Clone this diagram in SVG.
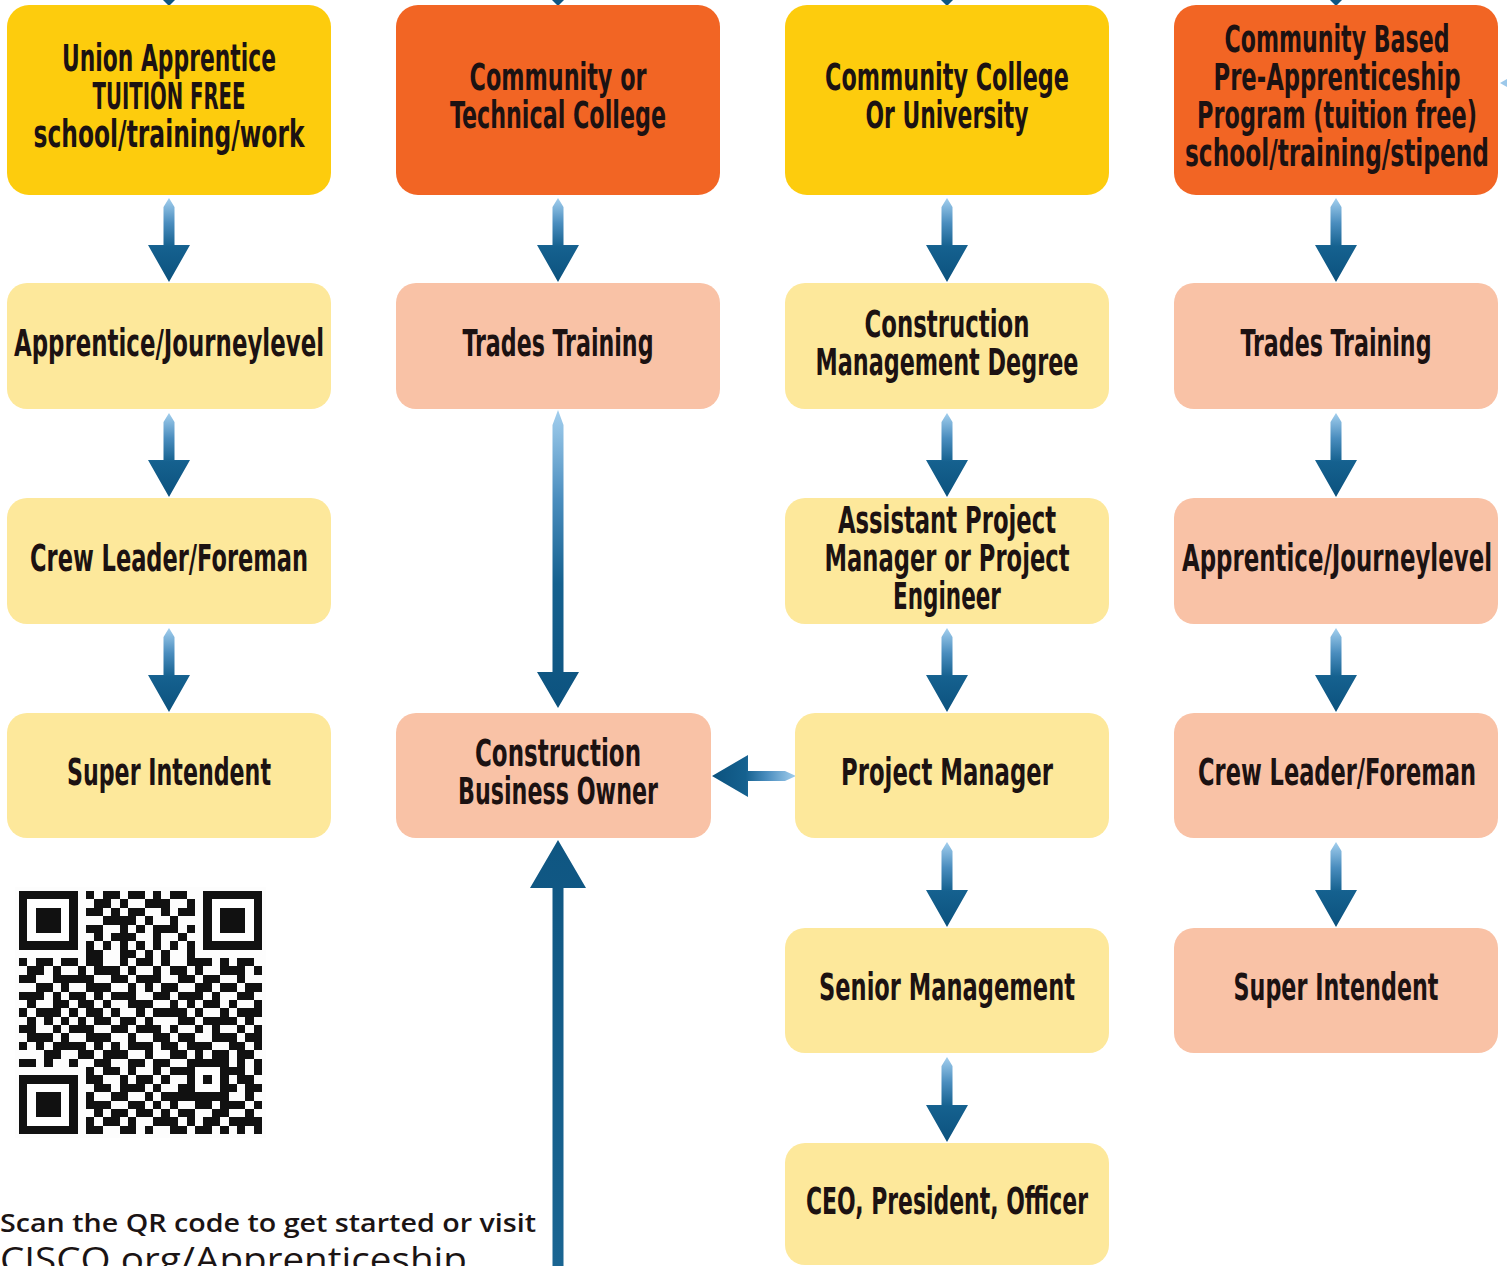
<svg xmlns="http://www.w3.org/2000/svg" width="1507" height="1266" viewBox="0 0 1507 1266">
<defs>
<style>
.box{stroke:none}
.y1{fill:#FDCC0D}
.o1{fill:#F26524}
.y2{fill:#FDE89B}
.s2{fill:#F9C2A6}
.lbl{font-family:"Liberation Sans Narrow","DejaVu Sans Condensed","DejaVu Sans",sans-serif;font-stretch:condensed;font-weight:700;font-size:37px;fill:#1c1212;text-anchor:middle}
.cap{font-family:"Open Sans","Lato","Liberation Sans",sans-serif;fill:#1b1414}
.arr{fill:url(#gv)}
.qr{fill:#111}
</style>
<linearGradient id="gv" x1="0" y1="0" x2="0" y2="1">
<stop offset="0" stop-color="#A3CFEE"/>
<stop offset="0.3" stop-color="#4A8DBE"/>
<stop offset="0.58" stop-color="#15618F"/>
<stop offset="1" stop-color="#0C527E"/>
</linearGradient>
<linearGradient id="gh" x1="1" y1="0" x2="0" y2="0">
<stop offset="0" stop-color="#A3CFEE"/>
<stop offset="0.35" stop-color="#4A8DBE"/>
<stop offset="0.6" stop-color="#15618F"/>
<stop offset="1" stop-color="#0C527E"/>
</linearGradient>
<linearGradient id="gu" x1="0" y1="0" x2="0" y2="1">
<stop offset="0" stop-color="#0F5682"/>
<stop offset="1" stop-color="#1A6592"/>
</linearGradient>
</defs>
<rect width="1507" height="1266" fill="#fff"/>

<g id="connectors">
<polygon points="163,0 175,0 169,6" fill="#0F5682"/>
<polygon points="552,0 564,0 558,6" fill="#0F5682"/>
<polygon points="941,0 953,0 947,6" fill="#0F5682"/>
<polygon points="1330,0 1342,0 1336,6" fill="#0F5682"/>
<polygon points="1500,83 1507,79 1507,87" fill="#9CC8EA"/>
<path class="arr" d="M169 198 L174.5 207 V245 H190 L169 282 L148 245 H163.5 V207 Z"/>
<path class="arr" d="M169 413 L174.5 422 V460 H190 L169 497 L148 460 H163.5 V422 Z"/>
<path class="arr" d="M169 628 L174.5 637 V675 H190 L169 712 L148 675 H163.5 V637 Z"/>
<path class="arr" d="M558 198 L563.5 207 V245 H579 L558 282 L537 245 H552.5 V207 Z"/>
<path class="arr" d="M558 410 L563.5 425 V672 H579 L558 708 L537 672 H552.5 V425 Z"/>
<path class="arr" d="M947 198 L952.5 207 V245 H968 L947 282 L926 245 H941.5 V207 Z"/>
<path class="arr" d="M947 413 L952.5 422 V460 H968 L947 497 L926 460 H941.5 V422 Z"/>
<path class="arr" d="M947 628 L952.5 637 V675 H968 L947 712 L926 675 H941.5 V637 Z"/>
<path class="arr" d="M947 842 L952.5 851 V890 H968 L947 927 L926 890 H941.5 V851 Z"/>
<path class="arr" d="M947 1057 L952.5 1066 V1105 H968 L947 1142 L926 1105 H941.5 V1066 Z"/>
<path class="arr" d="M1336 198 L1341.5 207 V245 H1357 L1336 282 L1315 245 H1330.5 V207 Z"/>
<path class="arr" d="M1336 413 L1341.5 422 V460 H1357 L1336 497 L1315 460 H1330.5 V422 Z"/>
<path class="arr" d="M1336 628 L1341.5 637 V675 H1357 L1336 712 L1315 675 H1330.5 V637 Z"/>
<path class="arr" d="M1336 842 L1341.5 851 V890 H1357 L1336 927 L1315 890 H1330.5 V851 Z"/>
<path fill="url(#gh)" d="M712 776 L748 755 V771 H785 L796 776 L785 781 H748 V797 Z"/>
<path fill="url(#gu)" d="M558 840 L586 888 H563.5 V1266 H552.5 V888 H530 Z"/>
</g>

<g id="n-union">
<rect class="box y1" x="7" y="5" width="324" height="190" rx="22"/>
<text class="lbl" x="169" y="71" textLength="214" lengthAdjust="spacingAndGlyphs">Union Apprentice</text>
<text class="lbl" x="169" y="109" textLength="153" lengthAdjust="spacingAndGlyphs">TUITION FREE</text>
<text class="lbl" x="169" y="147" textLength="271" lengthAdjust="spacingAndGlyphs">school/training/work</text>
</g>
<g id="n-cc-tech">
<rect class="box o1" x="396" y="5" width="324" height="190" rx="22"/>
<text class="lbl" x="558" y="90" textLength="177" lengthAdjust="spacingAndGlyphs">Community or</text>
<text class="lbl" x="558" y="128" textLength="216" lengthAdjust="spacingAndGlyphs">Technical College</text>
</g>
<g id="n-cc-univ">
<rect class="box y1" x="785" y="5" width="324" height="190" rx="22"/>
<text class="lbl" x="947" y="90" textLength="244" lengthAdjust="spacingAndGlyphs">Community College</text>
<text class="lbl" x="947" y="128" textLength="163" lengthAdjust="spacingAndGlyphs">Or University</text>
</g>
<g id="n-preapp">
<rect class="box o1" x="1174" y="5" width="324" height="190" rx="22"/>
<text class="lbl" x="1337" y="52" textLength="225" lengthAdjust="spacingAndGlyphs">Community Based</text>
<text class="lbl" x="1337" y="90" textLength="247" lengthAdjust="spacingAndGlyphs">Pre-Apprenticeship</text>
<text class="lbl" x="1337" y="128" textLength="280" lengthAdjust="spacingAndGlyphs">Program (tuition free)</text>
<text class="lbl" x="1337" y="166" textLength="304" lengthAdjust="spacingAndGlyphs">school/training/stipend</text>
</g>

<g id="n-apprentice1">
<rect class="box y2" x="7" y="283" width="324" height="126" rx="20"/>
<text class="lbl" x="169" y="356" textLength="310" lengthAdjust="spacingAndGlyphs">Apprentice/Journeylevel</text>
</g>
<g id="n-trades2">
<rect class="box s2" x="396" y="283" width="324" height="126" rx="20"/>
<text class="lbl" x="558" y="356" textLength="191" lengthAdjust="spacingAndGlyphs">Trades Training</text>
</g>
<g id="n-cmdegree">
<rect class="box y2" x="785" y="283" width="324" height="126" rx="20"/>
<text class="lbl" x="947" y="337" textLength="165" lengthAdjust="spacingAndGlyphs">Construction</text>
<text class="lbl" x="947" y="375" textLength="263" lengthAdjust="spacingAndGlyphs">Management Degree</text>
</g>
<g id="n-trades4">
<rect class="box s2" x="1174" y="283" width="324" height="126" rx="20"/>
<text class="lbl" x="1336" y="356" textLength="191" lengthAdjust="spacingAndGlyphs">Trades Training</text>
</g>

<g id="n-crew1">
<rect class="box y2" x="7" y="498" width="324" height="126" rx="20"/>
<text class="lbl" x="169" y="571" textLength="278" lengthAdjust="spacingAndGlyphs">Crew Leader/Foreman</text>
</g>
<g id="n-apm">
<rect class="box y2" x="785" y="498" width="324" height="126" rx="20"/>
<text class="lbl" x="947" y="533" textLength="218" lengthAdjust="spacingAndGlyphs">Assistant Project</text>
<text class="lbl" x="947" y="571" textLength="245" lengthAdjust="spacingAndGlyphs">Manager or Project</text>
<text class="lbl" x="947" y="609" textLength="108" lengthAdjust="spacingAndGlyphs">Engineer</text>
</g>
<g id="n-apprentice4">
<rect class="box s2" x="1174" y="498" width="324" height="126" rx="20"/>
<text class="lbl" x="1337" y="571" textLength="310" lengthAdjust="spacingAndGlyphs">Apprentice/Journeylevel</text>
</g>

<g id="n-super1">
<rect class="box y2" x="7" y="713" width="324" height="125" rx="20"/>
<text class="lbl" x="169" y="785" textLength="204" lengthAdjust="spacingAndGlyphs">Super Intendent</text>
</g>
<g id="n-owner">
<rect class="box s2" x="396" y="713" width="315" height="125" rx="20"/>
<text class="lbl" x="558" y="766" textLength="166" lengthAdjust="spacingAndGlyphs">Construction</text>
<text class="lbl" x="558" y="804" textLength="200" lengthAdjust="spacingAndGlyphs">Business Owner</text>
</g>
<g id="n-pm">
<rect class="box y2" x="795" y="713" width="314" height="125" rx="20"/>
<text class="lbl" x="947" y="785" textLength="212" lengthAdjust="spacingAndGlyphs">Project Manager</text>
</g>
<g id="n-crew4">
<rect class="box s2" x="1174" y="713" width="324" height="125" rx="20"/>
<text class="lbl" x="1337" y="785" textLength="278" lengthAdjust="spacingAndGlyphs">Crew Leader/Foreman</text>
</g>

<g id="n-senior">
<rect class="box y2" x="785" y="928" width="324" height="125" rx="20"/>
<text class="lbl" x="947" y="1000" textLength="256" lengthAdjust="spacingAndGlyphs">Senior Management</text>
</g>
<g id="n-super4">
<rect class="box s2" x="1174" y="928" width="324" height="125" rx="20"/>
<text class="lbl" x="1336" y="1000" textLength="205" lengthAdjust="spacingAndGlyphs">Super Intendent</text>
</g>
<g id="n-ceo">
<rect class="box y2" x="785" y="1143" width="324" height="122" rx="20"/>
<text class="lbl" x="947" y="1214" textLength="282" lengthAdjust="spacingAndGlyphs">CEO, President, Officer</text>
</g>

<g id="qr" transform="translate(19 891) scale(8.38)" shape-rendering="crispEdges">
<rect x="-0.5" y="-0.5" width="30" height="30" fill="#fdfdfd"/>
<rect class="qr" x="0" y="0" width="7" height="7"/><rect fill="#fff" x="1" y="1" width="5" height="5"/><rect class="qr" x="2" y="2" width="3" height="3"/>
<rect class="qr" x="22" y="0" width="7" height="7"/><rect fill="#fff" x="23" y="1" width="5" height="5"/><rect class="qr" x="24" y="2" width="3" height="3"/>
<rect class="qr" x="0" y="22" width="7" height="7"/><rect fill="#fff" x="1" y="23" width="5" height="5"/><rect class="qr" x="2" y="24" width="3" height="3"/>
<rect class="qr" x="20" y="20" width="5" height="5"/><rect fill="#fff" x="21" y="21" width="3" height="3"/><rect class="qr" x="22" y="22" width="1" height="1"/>
<path class="qr" d="
M8 0h1v1h-1z M10 0h2v1h-2z M13 0h2v1h-2z M16 0h1v1h-1z M18 0h2v1h-2z
M9 1h2v1h-2z M12 1h1v1h-1z M15 1h3v1h-3z M20 1h1v1h-1z
M8 2h2v1h-2z M11 2h1v1h-1z M13 2h2v1h-2z M17 2h1v1h-1z M19 2h2v1h-2z
M10 3h4v1h-4z M15 3h1v1h-1z M18 3h1v1h-1z
M8 4h2v1h-2z M12 4h1v1h-1z M14 4h1v1h-1z M16 4h3v1h-3z M20 4h1v1h-1z
M9 5h1v1h-1z M11 5h3v1h-3z M16 5h1v1h-1z M19 5h1v1h-1z
M8 6h1v1h-1z M10 6h1v1h-1z M12 6h1v1h-1z M14 6h1v1h-1z M16 6h1v1h-1z M18 6h1v1h-1z M20 6h1v1h-1z
M8 7h2v1h-2z M12 7h2v1h-2z M15 7h1v1h-1z M17 7h1v1h-1z M20 7h1v1h-1z
M0 8h1v1h-1z M2 8h2v1h-2z M5 8h2v1h-2z M8 8h2v1h-2z M12 8h1v1h-1z M14 8h2v1h-2z M17 8h1v1h-1z M20 8h3v1h-3z M24 8h1v1h-1z M26 8h2v1h-2z
M1 9h2v1h-2z M4 9h1v1h-1z M7 9h1v1h-1z M9 9h3v1h-3z M13 9h1v1h-1z M16 9h1v1h-1z M18 9h2v1h-2z M21 9h1v1h-1z M24 9h3v1h-3z M28 9h1v1h-1z
M0 10h2v1h-2z M4 10h5v1h-5z M11 10h2v1h-2z M14 10h3v1h-3z M19 10h2v1h-2z M22 10h2v1h-2z M26 10h1v1h-1z
M2 11h2v1h-2z M5 11h1v1h-1z M8 11h3v1h-3z M13 11h1v1h-1z M15 11h1v1h-1z M17 11h2v1h-2z M21 11h2v1h-2z M24 11h2v1h-2z M27 11h2v1h-2z
M0 12h3v1h-3z M4 12h1v1h-1z M6 12h2v1h-2z M9 12h1v1h-1z M11 12h3v1h-3z M16 12h2v1h-2z M19 12h3v1h-3z M23 12h1v1h-1z M26 12h2v1h-2z
M1 13h1v1h-1z M4 13h2v1h-2z M7 13h2v1h-2z M10 13h1v1h-1z M13 13h3v1h-3z M18 13h1v1h-1z M20 13h1v1h-1z M22 13h2v1h-2z M25 13h1v1h-1z M28 13h1v1h-1z
M0 14h1v1h-1z M2 14h3v1h-3z M6 14h1v1h-1z M8 14h2v1h-2z M11 14h1v1h-1z M14 14h1v1h-1z M16 14h4v1h-4z M21 14h1v1h-1z M24 14h1v1h-1z M26 14h3v1h-3z
M1 15h1v1h-1z M3 15h1v1h-1z M5 15h1v1h-1z M7 15h1v1h-1z M9 15h2v1h-2z M12 15h2v1h-2z M15 15h1v1h-1z M19 15h2v1h-2z M22 15h4v1h-4z M27 15h1v1h-1z
M0 16h2v1h-2z M4 16h1v1h-1z M6 16h3v1h-3z M11 16h2v1h-2z M14 16h3v1h-3z M18 16h1v1h-1z M21 16h1v1h-1z M23 16h1v1h-1z M26 16h1v1h-1z M28 16h1v1h-1z
M1 17h3v1h-3z M5 17h1v1h-1z M8 17h3v1h-3z M13 17h1v1h-1z M16 17h2v1h-2z M19 17h2v1h-2z M23 17h3v1h-3z M27 17h2v1h-2z
M0 18h1v1h-1z M2 18h1v1h-1z M4 18h4v1h-4z M9 18h1v1h-1z M11 18h1v1h-1z M13 18h3v1h-3z M17 18h2v1h-2z M20 18h3v1h-3z M25 18h2v1h-2z M28 18h1v1h-1z
M3 19h2v1h-2z M7 19h2v1h-2z M10 19h3v1h-3z M15 19h1v1h-1z M18 19h2v1h-2z M21 19h1v1h-1z M23 19h2v1h-2z M26 19h2v1h-2z
M0 20h2v1h-2z M3 20h1v1h-1z M6 20h1v1h-1z M9 20h2v1h-2z M13 20h2v1h-2z M16 20h2v1h-2z M26 20h1v1h-1z M28 20h1v1h-1z
M8 21h1v1h-1z M10 21h2v1h-2z M13 21h1v1h-1z M16 21h1v1h-1z M18 21h2v1h-2z M25 21h2v1h-2z M28 21h1v1h-1z
M8 22h2v1h-2z M12 22h1v1h-1z M14 22h2v1h-2z M17 22h1v1h-1z M26 22h2v1h-2z
M9 23h2v1h-2z M12 23h3v1h-3z M16 23h1v1h-1z M19 23h1v1h-1z M25 23h1v1h-1z M27 23h2v1h-2z
M8 24h1v1h-1z M11 24h2v1h-2z M15 24h1v1h-1z M17 24h3v1h-3z M27 24h1v1h-1z
M8 25h3v1h-3z M13 25h2v1h-2z M16 25h1v1h-1z M18 25h1v1h-1z M21 25h2v1h-2z M24 25h3v1h-3z M28 25h1v1h-1z
M9 26h1v1h-1z M11 26h2v1h-2z M14 26h2v1h-2z M17 26h1v1h-1z M19 26h2v1h-2z M23 26h2v1h-2z M27 26h1v1h-1z
M8 27h1v1h-1z M10 27h2v1h-2z M13 27h1v1h-1z M16 27h3v1h-3z M20 27h1v1h-1z M22 27h2v1h-2z M25 27h4v1h-4z
M8 28h2v1h-2z M12 28h2v1h-2z M15 28h1v1h-1z M18 28h2v1h-2z M21 28h2v1h-2z M24 28h1v1h-1z M26 28h1v1h-1z M28 28h1v1h-1z"/>
</g>

<g id="caption">
<text class="cap" x="0" y="1232" font-size="25" font-weight="600" textLength="536" lengthAdjust="spacingAndGlyphs">Scan the QR code to get started or visit</text>
<text class="cap" x="0" y="1272" font-size="34" font-weight="500" textLength="467" lengthAdjust="spacingAndGlyphs">CISCO.org/Apprenticeship</text>
</g>
</svg>
